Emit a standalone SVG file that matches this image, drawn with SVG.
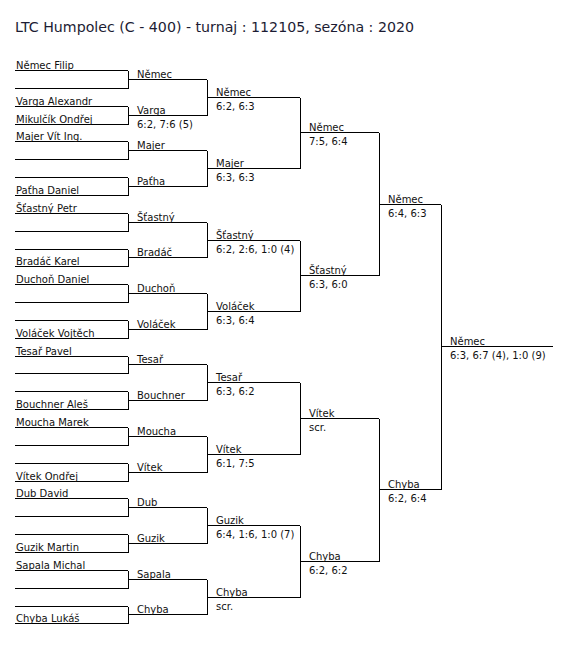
<svg xmlns="http://www.w3.org/2000/svg" width="588" height="654" viewBox="0 0 588 654">
<style>
.ln{stroke:#000;stroke-width:1;fill:none;shape-rendering:crispEdges}
.t{font-family:"DejaVu Sans","Liberation Sans",sans-serif;font-size:10px;fill:#111}
.title{font-family:"DejaVu Sans","Liberation Sans",sans-serif;font-size:14px;fill:#1c1c33}
</style>
<rect width="588" height="654" fill="#fff"/>
<text class="title" x="15" y="32" textLength="399" lengthAdjust="spacingAndGlyphs">LTC Humpolec (C - 400) - turnaj : 112105, sezóna : 2020</text>

<!-- Round 1 -->
<g id="r1-01"><path class="ln" d="M15 70.5H128"/><text class="t" x="16" y="69">Němec Filip</text></g>
<g id="r1-02"><path class="ln" d="M15 88.5H128"/></g>
<g id="r1-03"><path class="ln" d="M15 106.5H128"/><text class="t" x="16" y="105">Varga Alexandr</text></g>
<g id="r1-04"><path class="ln" d="M15 124.5H128"/><text class="t" x="16" y="123">Mikulčík Ondřej</text></g>
<g id="r1-05"><path class="ln" d="M15 141.5H128"/><text class="t" x="16" y="140">Majer Vít Ing.</text></g>
<g id="r1-06"><path class="ln" d="M15 159.5H128"/></g>
<g id="r1-07"><path class="ln" d="M15 177.5H128"/></g>
<g id="r1-08"><path class="ln" d="M15 195.5H128"/><text class="t" x="16" y="194">Paťha Daniel</text></g>
<g id="r1-09"><path class="ln" d="M15 213.5H128"/><text class="t" x="16" y="212">Šťastný Petr</text></g>
<g id="r1-10"><path class="ln" d="M15 231.5H128"/></g>
<g id="r1-11"><path class="ln" d="M15 249.5H128"/></g>
<g id="r1-12"><path class="ln" d="M15 266.5H128"/><text class="t" x="16" y="265">Bradáč Karel</text></g>
<g id="r1-13"><path class="ln" d="M15 284.5H128"/><text class="t" x="16" y="283">Duchoň Daniel</text></g>
<g id="r1-14"><path class="ln" d="M15 302.5H128"/></g>
<g id="r1-15"><path class="ln" d="M15 320.5H128"/></g>
<g id="r1-16"><path class="ln" d="M15 338.5H128"/><text class="t" x="16" y="337">Voláček Vojtěch</text></g>
<g id="r1-17"><path class="ln" d="M15 356.5H128"/><text class="t" x="16" y="355">Tesař Pavel</text></g>
<g id="r1-18"><path class="ln" d="M15 373.5H128"/></g>
<g id="r1-19"><path class="ln" d="M15 391.5H128"/></g>
<g id="r1-20"><path class="ln" d="M15 409.5H128"/><text class="t" x="16" y="408">Bouchner Aleš</text></g>
<g id="r1-21"><path class="ln" d="M15 427.5H128"/><text class="t" x="16" y="426">Moucha Marek</text></g>
<g id="r1-22"><path class="ln" d="M15 445.5H128"/></g>
<g id="r1-23"><path class="ln" d="M15 463.5H128"/></g>
<g id="r1-24"><path class="ln" d="M15 481.5H128"/><text class="t" x="16" y="480">Vítek Ondřej</text></g>
<g id="r1-25"><path class="ln" d="M15 498.5H128"/><text class="t" x="16" y="497">Dub David</text></g>
<g id="r1-26"><path class="ln" d="M15 516.5H128"/></g>
<g id="r1-27"><path class="ln" d="M15 534.5H128"/></g>
<g id="r1-28"><path class="ln" d="M15 552.5H128"/><text class="t" x="16" y="551">Guzik Martin</text></g>
<g id="r1-29"><path class="ln" d="M15 570.5H128"/><text class="t" x="16" y="569">Sapala Michal</text></g>
<g id="r1-30"><path class="ln" d="M15 588.5H128"/></g>
<g id="r1-31"><path class="ln" d="M15 606.5H128"/></g>
<g id="r1-32"><path class="ln" d="M15 623.5H128"/><text class="t" x="16" y="622">Chyba Lukáš</text></g>

<!-- Round 2 -->
<g id="r2-01"><path class="ln" d="M128 79.5H207"/><text class="t" x="137" y="78">Němec</text></g>
<g id="r2-02"><path class="ln" d="M128 115.5H207"/><text class="t" x="137" y="114">Varga</text><text class="t" x="137" y="128">6:2, 7:6 (5)</text></g>
<g id="r2-03"><path class="ln" d="M128 150.5H207"/><text class="t" x="137" y="149">Majer</text></g>
<g id="r2-04"><path class="ln" d="M128 186.5H207"/><text class="t" x="137" y="185">Paťha</text></g>
<g id="r2-05"><path class="ln" d="M128 222.5H207"/><text class="t" x="137" y="221">Šťastný</text></g>
<g id="r2-06"><path class="ln" d="M128 257.5H207"/><text class="t" x="137" y="256">Bradáč</text></g>
<g id="r2-07"><path class="ln" d="M128 293.5H207"/><text class="t" x="137" y="292">Duchoň</text></g>
<g id="r2-08"><path class="ln" d="M128 329.5H207"/><text class="t" x="137" y="328">Voláček</text></g>
<g id="r2-09"><path class="ln" d="M128 364.5H207"/><text class="t" x="137" y="363">Tesař</text></g>
<g id="r2-10"><path class="ln" d="M128 400.5H207"/><text class="t" x="137" y="399">Bouchner</text></g>
<g id="r2-11"><path class="ln" d="M128 436.5H207"/><text class="t" x="137" y="435">Moucha</text></g>
<g id="r2-12"><path class="ln" d="M128 472.5H207"/><text class="t" x="137" y="471">Vítek</text></g>
<g id="r2-13"><path class="ln" d="M128 507.5H207"/><text class="t" x="137" y="506">Dub</text></g>
<g id="r2-14"><path class="ln" d="M128 543.5H207"/><text class="t" x="137" y="542">Guzik</text></g>
<g id="r2-15"><path class="ln" d="M128 579.5H207"/><text class="t" x="137" y="578">Sapala</text></g>
<g id="r2-16"><path class="ln" d="M128 614.5H207"/><text class="t" x="137" y="613">Chyba</text></g>

<!-- Round 3 -->
<g id="r3-01"><path class="ln" d="M207 97.5H300"/><text class="t" x="216" y="96">Němec</text><text class="t" x="216" y="110">6:2, 6:3</text></g>
<g id="r3-02"><path class="ln" d="M207 168.5H300"/><text class="t" x="216" y="167">Majer</text><text class="t" x="216" y="181">6:3, 6:3</text></g>
<g id="r3-03"><path class="ln" d="M207 240.5H300"/><text class="t" x="216" y="239">Šťastný</text><text class="t" x="216" y="253">6:2, 2:6, 1:0 (4)</text></g>
<g id="r3-04"><path class="ln" d="M207 311.5H300"/><text class="t" x="216" y="310">Voláček</text><text class="t" x="216" y="324">6:3, 6:4</text></g>
<g id="r3-05"><path class="ln" d="M207 382.5H300"/><text class="t" x="216" y="381">Tesař</text><text class="t" x="216" y="395">6:3, 6:2</text></g>
<g id="r3-06"><path class="ln" d="M207 454.5H300"/><text class="t" x="216" y="453">Vítek</text><text class="t" x="216" y="467">6:1, 7:5</text></g>
<g id="r3-07"><path class="ln" d="M207 525.5H300"/><text class="t" x="216" y="524">Guzik</text><text class="t" x="216" y="538">6:4, 1:6, 1:0 (7)</text></g>
<g id="r3-08"><path class="ln" d="M207 597.5H300"/><text class="t" x="216" y="596">Chyba</text><text class="t" x="216" y="610">scr.</text></g>

<!-- Round 4 -->
<g id="r4-01"><path class="ln" d="M300 132.5H379"/><text class="t" x="309" y="131">Němec</text><text class="t" x="309" y="145">7:5, 6:4</text></g>
<g id="r4-02"><path class="ln" d="M300 275.5H379"/><text class="t" x="309" y="274">Šťastný</text><text class="t" x="309" y="288">6:3, 6:0</text></g>
<g id="r4-03"><path class="ln" d="M300 418.5H379"/><text class="t" x="309" y="417">Vítek</text><text class="t" x="309" y="431">scr.</text></g>
<g id="r4-04"><path class="ln" d="M300 561.5H379"/><text class="t" x="309" y="560">Chyba</text><text class="t" x="309" y="574">6:2, 6:2</text></g>

<!-- Round 5 -->
<g id="r5-01"><path class="ln" d="M379 204.5H441"/><text class="t" x="388" y="203">Němec</text><text class="t" x="388" y="217">6:4, 6:3</text></g>
<g id="r5-02"><path class="ln" d="M379 489.5H441"/><text class="t" x="388" y="488">Chyba</text><text class="t" x="388" y="502">6:2, 6:4</text></g>

<!-- Final -->
<g id="final"><path class="ln" d="M441 346.5H553"/><text class="t" x="450" y="345">Němec</text><text class="t" x="450" y="359">6:3, 6:7 (4), 1:0 (9)</text></g>

<!-- Connectors -->
<g id="connectors" class="ln">
<path d="M128.5 70.5V88.5M128.5 106.5V124.5M128.5 141.5V159.5M128.5 177.5V195.5M128.5 213.5V231.5M128.5 249.5V266.5M128.5 284.5V302.5M128.5 320.5V338.5M128.5 356.5V373.5M128.5 391.5V409.5M128.5 427.5V445.5M128.5 463.5V481.5M128.5 498.5V516.5M128.5 534.5V552.5M128.5 570.5V588.5M128.5 606.5V623.5"/>
<path d="M207.5 79.5V115.5M207.5 150.5V186.5M207.5 222.5V257.5M207.5 293.5V329.5M207.5 364.5V400.5M207.5 436.5V472.5M207.5 507.5V543.5M207.5 579.5V614.5"/>
<path d="M300.5 97.5V168.5M300.5 240.5V311.5M300.5 382.5V454.5M300.5 525.5V597.5"/>
<path d="M379.5 132.5V275.5M379.5 418.5V561.5"/>
<path d="M441.5 204.5V489.5"/>
</g>
</svg>
